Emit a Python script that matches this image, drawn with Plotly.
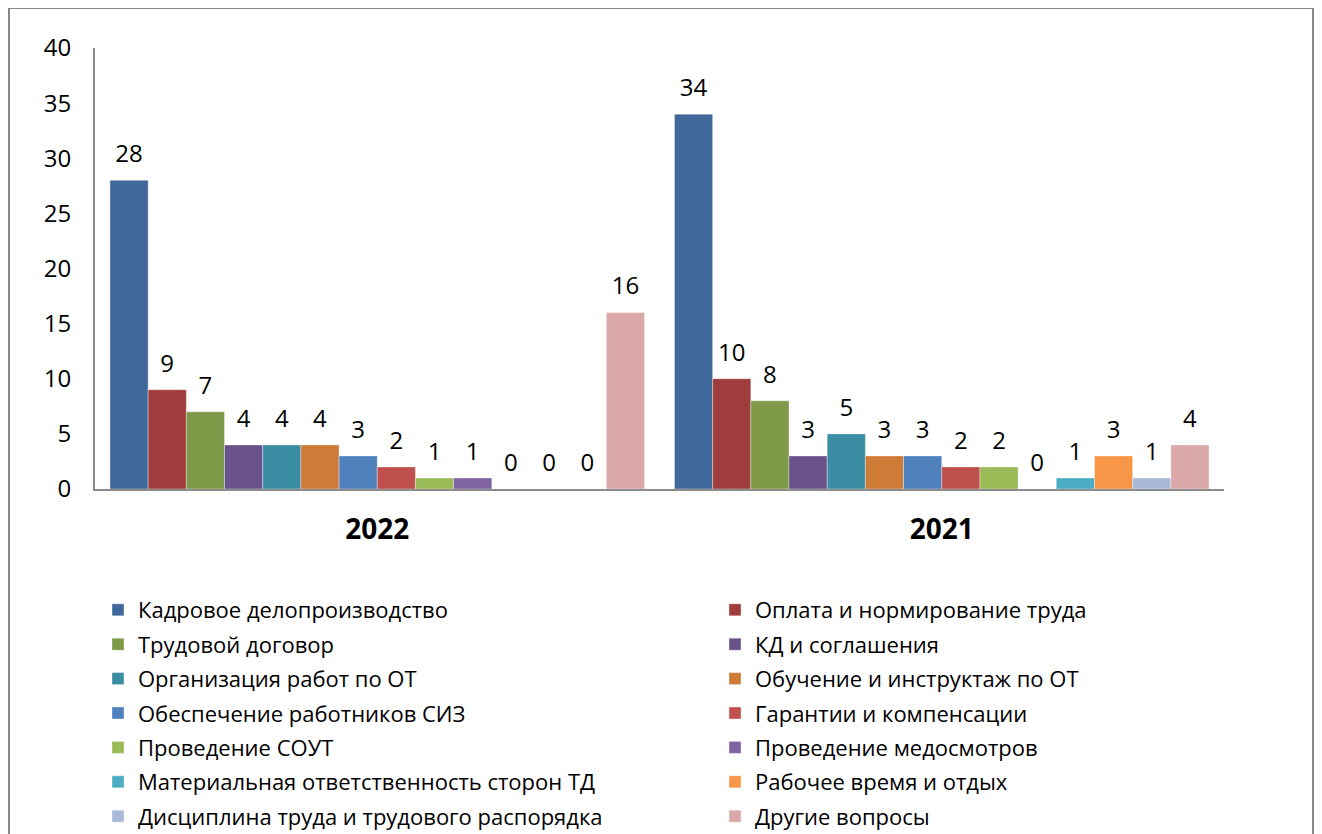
import plotly.graph_objects as go

categories = ["2022", "2021"]
series_names = [
    "Кадровое делопроизводство",
    "Оплата и нормирование труда",
    "Трудовой договор",
    "КД и соглашения",
    "Организация работ по ОТ",
    "Обучение и инструктаж по ОТ",
    "Обеспечение работников СИЗ",
    "Гарантии и компенсации",
    "Проведение СОУТ",
    "Проведение медосмотров",
    "Материальная ответственность сторон ТД",
    "Рабочее время и отдых",
    "Дисциплина труда и трудового распорядка",
    "Другие вопросы",
]
values_2022 = [28, 9, 7, 4, 4, 4, 3, 2, 1, 1, 0, 0, 0, 16]
values_2021 = [34, 10, 8, 3, 5, 3, 3, 2, 2, 0, 1, 3, 1, 4]
colors = [
    "#41689A", "#9E3D3B", "#7E9A48", "#69518A", "#3A8DA2", "#CF7B38", "#4F81BD",
    "#C0504D", "#9BBB59", "#8064A2", "#4BACC6", "#F79646", "#A9B9DA", "#DAA8A8",
]
y_ticks = [0, 5, 10, 15, 20, 25, 30, 35, 40]

FONT = "Open Sans"

fig = go.Figure()
for i, name in enumerate(series_names):
    vals = [values_2022[i], values_2021[i]]
    fig.add_trace(go.Bar(
        name=name,
        x=categories,
        y=vals,
        offsetgroup=str(i),
        alignmentgroup="a",
        legendgroup="g%d" % i,
        legend="legend" if i % 2 == 0 else "legend2",
        marker=dict(color=colors[i], line=dict(color="rgba(255,255,255,0.35)", width=1)),
    ))
for i, name in enumerate(series_names):
    vals = [values_2022[i], values_2021[i]]
    fig.add_trace(go.Scatter(
        x=categories,
        y=vals,
        offsetgroup=str(i),
        alignmentgroup="a",
        mode="markers+text",
        marker=dict(size=18, opacity=0, color=colors[i]),
        text=[str(v) for v in vals],
        textposition="top center",
        textfont=dict(family=FONT, size=24, color="#000000"),
        cliponaxis=False,
        showlegend=False,
        hoverinfo="skip",
    ))

# figure sits in the page with an 8 px body margin
W, H = 1306, 826
L, T = 87, 40
PLOT_RIGHT, PLOT_BOTTOM = 1216, 481
R = W - PLOT_RIGHT
B = H - PLOT_BOTTOM
pw = W - L - R
ph = H - T - B

def px_x(p):
    return (p - L) / pw

def px_y(p):
    return (H - B - p) / ph

legend_common = dict(
    orientation="v",
    yanchor="top",
    xanchor="left",
    traceorder="grouped",
    tracegroupgap=2.8,
    font=dict(family=FONT, size=22, color="#000000"),
    itemclick=False,
    itemdoubleclick=False,
    bgcolor="rgba(0,0,0,0)",
)

fig.update_layout(
    width=W, height=H,
    margin=dict(l=L, r=R, t=T, b=B, pad=0, autoexpand=False),
    paper_bgcolor="white",
    plot_bgcolor="white",
    barmode="group",
    bargap=0.053,
    bargroupgap=0,
    scattermode="group",
    scattergap=0.053,
    font=dict(family=FONT, size=20, color="#000000"),
    xaxis=dict(
        showline=True, linecolor="#8C8C8C", linewidth=2,
        ticks="", showgrid=False,
        tickfont=dict(family=FONT, size=28, color="#000000", weight="bold"),
        ticklabelstandoff=14,
    ),
    yaxis=dict(
        range=[0, 40], tickvals=y_ticks,
        showline=True, linecolor="#8C8C8C", linewidth=2,
        ticks="", showgrid=False, zeroline=False,
        tickfont=dict(family=FONT, size=24, color="#000000"),
        ticklabelstandoff=17,
    ),
    showlegend=True,
    legend=dict(x=px_x(90), y=px_y(581), **legend_common),
    legend2=dict(x=px_x(707), y=px_y(581), **legend_common),
    shapes=[dict(
        type="rect", xref="paper", yref="paper",
        x0=px_x(1), x1=px_x(W - 1), y0=px_y(0), y1=px_y(H + 100),
        line=dict(color="#868686", width=2), layer="below",
    )],
)

fig.write_html("out.html")
